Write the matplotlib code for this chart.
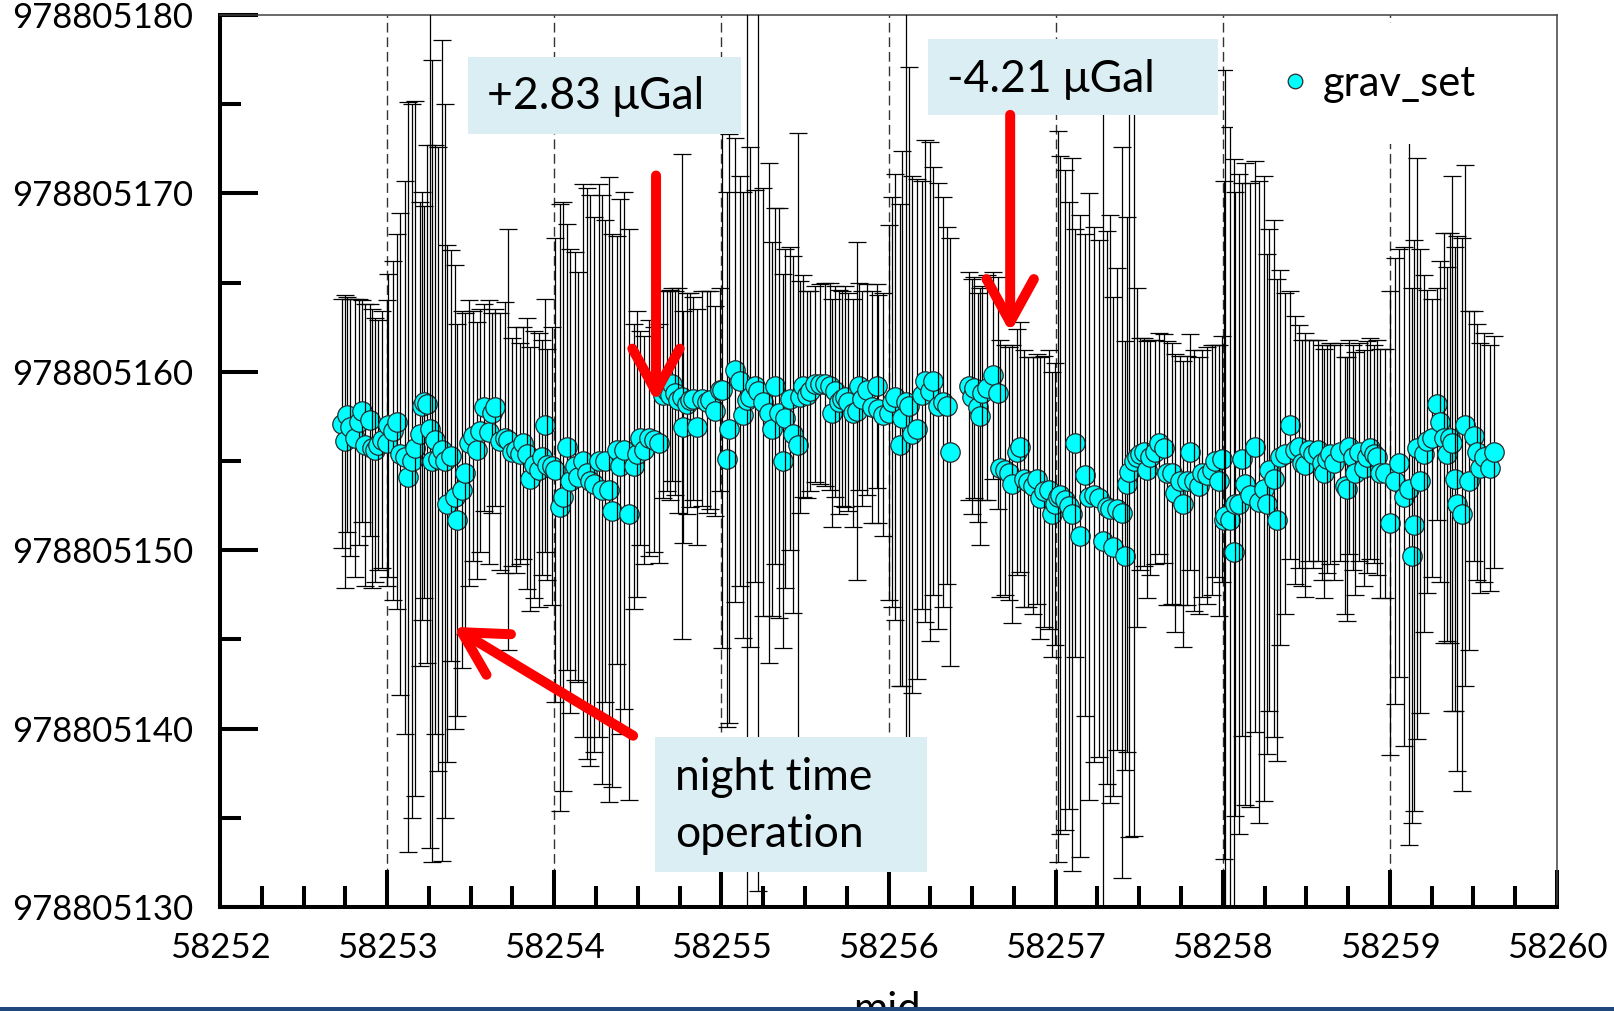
import matplotlib
matplotlib.use('Agg')
import matplotlib.pyplot as plt
from matplotlib.lines import Line2D
from matplotlib.patches import Rectangle
from matplotlib.ticker import MultipleLocator

plt.rcParams['font.family'] = ['Lato', 'DejaVu Sans']

MJD0 = 58252
G0 = 978805000

# each point: (mjd - 58252, gravity - 978805000, error)
seg1 = [(0.728, 157.1, 7.0), (0.748, 156.1, 8.2), (0.758, 157.6, 6.6), (0.778, 156.9, 7.2),
        (0.808, 156.3, 7.8), (0.834, 157.2, 6.9), (0.848, 157.8, 6.2), (0.868, 155.9, 7.9),
        (0.898, 157.3, 6.5), (0.908, 155.7, 7.8), (0.928, 155.6, 7.4), (0.948, 155.9, 7.0),
        (0.968, 156.2, 7.2), (0.998, 156.0, 8.0)]
seg2 = [(1.008, 157.0, 8.5), (1.038, 156.7, 9.5), (1.058, 157.2, 10.5), (1.077, 155.4, 13.5),
        (1.107, 155.2, 15.5), (1.127, 154.1, 21.0), (1.147, 155.0, 20.0), (1.167, 155.7, 19.5),
        (1.197, 156.5, 13.0), (1.207, 158.1, 12.0), (1.222, 158.3, 11.0), (1.237, 158.2, 14.5),
        (1.257, 156.8, 23.5), (1.267, 155.0, 22.5), (1.287, 156.2, 16.5), (1.307, 155.1, 17.5),
        (1.327, 155.6, 23.0), (1.347, 155.0, 20.0), (1.357, 152.6, 14.5), (1.382, 155.3, 11.5),
        (1.407, 153.0, 13.0), (1.417, 151.7, 11.0), (1.447, 153.4, 10.0), (1.467, 154.3, 9.0),
        (1.487, 156.0, 8.0)]
seg3 = [(1.512, 156.4, 7.0), (1.537, 155.6, 7.2), (1.557, 156.7, 6.8), (1.577, 158.0, 5.8),
        (1.607, 156.6, 7.4), (1.627, 157.7, 5.6), (1.647, 158.0, 5.5), (1.677, 156.1, 7.2),
        (1.707, 156.3, 7.6), (1.722, 156.2, 11.8), (1.747, 155.5, 6.4), (1.772, 155.6, 6.9),
        (1.797, 155.4, 6.2), (1.816, 156.0, 6.5), (1.836, 155.4, 7.6), (1.856, 154.0, 7.4),
        (1.876, 154.8, 7.5), (1.906, 154.5, 7.7), (1.926, 155.2, 6.6), (1.946, 157.0, 7.1),
        (1.956, 154.8, 6.5), (1.986, 154.7, 7.8)]
seg4 = [(2.006, 154.5, 13.0), (2.036, 152.4, 17.0), (2.055, 153.0, 16.5), (2.075, 155.8, 12.5),
        (2.095, 153.9, 13.0), (2.125, 154.7, 12.0), (2.145, 154.1, 11.5), (2.175, 155.0, 15.5),
        (2.195, 154.3, 16.0), (2.215, 153.9, 16.0), (2.235, 153.7, 15.0), (2.265, 155.0, 15.5),
        (2.285, 153.4, 16.5), (2.305, 155.0, 13.5), (2.325, 153.4, 17.5), (2.345, 152.2, 15.5),
        (2.375, 155.6, 12.0), (2.395, 154.7, 15.0), (2.415, 155.6, 14.5), (2.445, 152.0, 16.0),
        (2.475, 154.7, 8.0), (2.495, 155.4, 8.0)]
seg5 = [(2.515, 156.3, 6.0), (2.535, 155.6, 6.4), (2.565, 156.3, 6.6), (2.595, 156.2, 6.3),
        (2.625, 156.0, 6.7), (2.653, 158.7, 5.8), (2.673, 158.9, 5.6), (2.693, 158.7, 5.9),
        (2.703, 159.3, 5.4), (2.723, 158.8, 5.7), (2.743, 158.4, 6.3), (2.763, 158.6, 13.6),
        (2.773, 156.9, 6.5), (2.793, 158.2, 6.2), (2.813, 158.4, 6.0), (2.833, 158.5, 5.7),
        (2.853, 156.9, 6.6), (2.883, 158.5, 6.0), (2.913, 158.3, 6.2), (2.932, 158.4, 6.1),
        (2.962, 157.8, 5.9), (2.992, 159.0, 5.7)]
seg6 = [(3.002, 159.0, 14.5), (3.032, 155.1, 15.0), (3.047, 156.8, 16.5), (3.082, 160.1, 13.0),
        (3.112, 159.5, 11.5), (3.132, 157.6, 12.5), (3.156, 158.4, 29.0), (3.172, 158.6, 14.0),
        (3.202, 159.2, 11.0), (3.222, 158.9, 28.0), (3.252, 158.3, 12.0), (3.282, 157.7, 14.0),
        (3.302, 156.8, 10.5), (3.322, 159.2, 10.0), (3.342, 157.7, 11.5), (3.371, 155.0, 10.5),
        (3.381, 157.4, 9.5), (3.411, 158.5, 8.5), (3.431, 156.5, 10.0), (3.461, 155.9, 17.5),
        (3.471, 158.6, 6.5), (3.491, 159.2, 6.2)]
seg7 = [(3.511, 158.7, 5.8), (3.531, 158.9, 5.6), (3.561, 159.3, 5.5), (3.591, 159.3, 5.6),
        (3.621, 159.3, 5.7), (3.651, 159.2, 5.8), (3.661, 157.7, 6.4), (3.681, 158.9, 5.9),
        (3.701, 158.3, 6.3), (3.720, 158.5, 6.0), (3.740, 158.6, 6.2), (3.760, 158.3, 6.1),
        (3.790, 157.7, 6.4), (3.812, 157.8, 9.5), (3.822, 159.2, 5.8), (3.840, 158.5, 6.0),
        (3.870, 159.0, 5.9), (3.900, 158.0, 6.5), (3.930, 159.2, 5.7), (3.940, 157.9, 6.4),
        (3.970, 157.6, 6.8)]
seg8 = [(4.000, 157.7, 10.5), (4.020, 158.3, 11.5), (4.040, 158.6, 12.5), (4.070, 155.9, 13.5),
        (4.080, 157.4, 15.0), (4.105, 158.3, 26.0), (4.120, 158.1, 19.0), (4.139, 156.5, 14.5),
        (4.169, 156.8, 14.0), (4.199, 158.7, 12.0), (4.219, 159.5, 13.5), (4.249, 158.9, 14.0),
        (4.269, 159.5, 12.0), (4.299, 158.1, 12.5), (4.329, 158.3, 11.5), (4.349, 158.1, 10.0),
        (4.369, 155.5, 12.0)]
seg9 = [(4.479, 159.2, 6.4), (4.499, 158.6, 6.6), (4.509, 159.1, 6.2), (4.534, 158.0, 6.4),
        (4.548, 157.5, 7.2), (4.558, 158.8, 6.0), (4.588, 159.1, 6.3), (4.628, 159.8, 5.8),
        (4.658, 158.8, 6.5)]
seg10 = [(4.668, 154.6, 7.2), (4.698, 154.5, 7.0), (4.718, 154.3, 7.1), (4.738, 153.7, 7.8),
         (4.768, 155.5, 6.9), (4.788, 155.8, 7.0), (4.808, 154.0, 7.2), (4.833, 153.8, 7.0),
         (4.863, 153.6, 7.2), (4.888, 154.0, 7.0), (4.908, 152.9, 7.9), (4.928, 153.3, 7.6),
         (4.958, 153.4, 7.8), (4.977, 152.0, 8.0), (4.997, 152.6, 7.9)]
seg11 = [(5.012, 153.0, 20.5), (5.027, 153.1, 19.0), (5.057, 152.8, 18.5), (5.082, 152.5, 17.0),
         (5.097, 152.0, 20.0), (5.117, 156.0, 12.0), (5.147, 150.8, 18.0), (5.177, 154.2, 13.5),
         (5.197, 153.0, 17.0), (5.227, 153.1, 15.0), (5.257, 152.9, 14.5), (5.282, 150.5, 24.0),
         (5.307, 152.4, 15.5), (5.327, 152.3, 16.5), (5.346, 150.2, 14.0), (5.366, 152.3, 13.5),
         (5.396, 152.1, 20.5), (5.416, 149.7, 12.0), (5.426, 153.7, 15.0), (5.441, 154.4, 20.5),
         (5.471, 155.0, 21.0), (5.486, 155.2, 9.5)]
seg12 = [(5.506, 155.4, 6.5), (5.526, 155.5, 6.4), (5.546, 154.5, 7.2), (5.566, 155.2, 6.6),
         (5.596, 155.5, 6.3), (5.616, 156.0, 6.2), (5.646, 155.7, 6.4), (5.666, 154.3, 7.4),
         (5.696, 154.3, 7.3), (5.715, 153.2, 7.8), (5.745, 153.9, 7.0), (5.765, 152.6, 8.0),
         (5.785, 153.9, 7.0), (5.805, 155.5, 6.6), (5.825, 153.9, 7.3), (5.855, 153.6, 7.2),
         (5.875, 154.3, 6.9), (5.905, 154.2, 7.2), (5.935, 154.5, 7.0), (5.955, 155.0, 6.5),
         (5.975, 153.9, 7.6), (5.995, 155.1, 6.9)]
seg13 = [(6.005, 151.7, 19.0), (6.015, 151.9, 25.0), (6.045, 151.7, 22.0), (6.065, 149.9, 22.0),
         (6.075, 152.6, 17.5), (6.095, 152.6, 18.5), (6.115, 155.1, 15.5), (6.134, 153.7, 18.0),
         (6.164, 153.1, 17.5), (6.194, 155.8, 16.0), (6.214, 152.7, 18.0), (6.244, 153.45, 17.5),
         (6.264, 152.6, 14.0), (6.274, 154.5, 13.5), (6.304, 154.0, 14.5), (6.324, 151.7, 13.5),
         (6.344, 155.2, 10.5), (6.374, 155.4, 9.0), (6.404, 157.0, 7.5), (6.434, 155.6, 7.5),
         (6.454, 155.8, 6.8), (6.474, 154.9, 6.9), (6.494, 154.8, 7.4)]
seg14 = [(6.514, 155.6, 6.2), (6.538, 155.4, 6.4), (6.568, 155.6, 6.2), (6.593, 154.9, 6.6),
         (6.603, 154.3, 7.0), (6.623, 155.1, 6.4), (6.643, 155.4, 6.2), (6.663, 154.9, 6.6),
         (6.703, 155.5, 6.1), (6.733, 153.6, 7.2), (6.743, 153.45, 7.4), (6.753, 155.8, 6.0),
         (6.778, 155.2, 6.3), (6.793, 154.3, 6.8), (6.813, 155.5, 6.1), (6.843, 154.6, 6.6),
         (6.863, 155.2, 6.5), (6.883, 155.7, 6.2), (6.903, 155.4, 6.1), (6.922, 155.2, 6.6),
         (6.942, 154.3, 7.0), (6.972, 154.3, 7.0)]
seg15 = [(7.002, 151.5, 13.0), (7.032, 153.9, 12.5), (7.052, 154.9, 12.0), (7.082, 153.0, 14.0),
         (7.112, 153.45, 20.0), (7.132, 149.7, 15.0), (7.142, 151.4, 16.0), (7.162, 155.7, 16.3),
         (7.182, 153.9, 13.0), (7.202, 155.4, 10.0), (7.222, 156.1, 8.5), (7.252, 156.3, 7.8),
         (7.282, 158.2, 6.5), (7.302, 157.2, 9.0), (7.322, 156.3, 11.5), (7.341, 155.4, 10.5),
         (7.361, 156.3, 11.5), (7.371, 156.0, 15.0), (7.391, 154.0, 13.0), (7.401, 152.6, 15.0),
         (7.431, 152.0, 15.5), (7.451, 157.0, 14.6), (7.471, 153.9, 9.5), (7.501, 156.4, 7.0),
         (7.521, 155.5, 7.2), (7.541, 154.6, 7.0), (7.561, 155.2, 7.0), (7.601, 154.6, 6.9),
         (7.621, 155.5, 6.5)]

xticks = [58252, 58253, 58254, 58255, 58256, 58257, 58258, 58259, 58260]
yticks = [978805130, 978805140, 978805150, 978805160, 978805170, 978805180]
day_lines = [58253, 58254, 58255, 58256, 58257, 58258, 58259]

points = (seg1 + seg2 + seg3 + seg4 + seg5 + seg6 + seg7 + seg8 + seg9 + seg10
          + seg11 + seg12 + seg13 + seg14 + seg15)

fig = plt.figure(figsize=(16.14, 10.11), dpi=100)
ax = fig.add_axes([0.1363, 0.1029, 0.8284, 0.8823])

for d in day_lines:
    ax.axvline(d, color='#333333', lw=1.0, ls=(0, (7, 3.5)), zorder=1)

# one errorbar per point so each later bar sits over the earlier marker
for i, (t, g, e) in enumerate(points):
    ax.errorbar(MJD0 + t, G0 + g, yerr=e, fmt='o', ms=14, mfc='#00FFFF',
                mec='#2a2a2a', mew=0.9, ecolor='black', elinewidth=0.9,
                capsize=6.5, capthick=0.9, zorder=3 + 0.2 * i)

ax.set_xlim(58252, 58260)
ax.set_ylim(978805130, 978805180)
ax.set_xticks(xticks)
ax.set_xticklabels([str(v) for v in xticks])
ax.set_yticks(yticks)
ax.set_yticklabels([str(v) for v in yticks])
ax.xaxis.set_minor_locator(MultipleLocator(0.25))
ax.yaxis.set_minor_locator(MultipleLocator(5))
ax.tick_params(which='major', direction='in', length=27, width=2.9, labelsize=25)
ax.tick_params(which='minor', direction='in', length=15, width=2.9)
ax.tick_params(axis='x', which='both', pad=18, top=False)
ax.tick_params(axis='y', which='both', pad=19, right=False)
for s in ['left', 'bottom']:
    ax.spines[s].set_linewidth(2.9)
for s in ['top', 'right']:
    ax.spines[s].set_linewidth(1.1)
    ax.spines[s].set_color('#404040')

# text boxes
boxes = [((0.1855, 0.8666), 0.2042, 0.0863),
         ((0.5295, 0.8879), 0.2169, 0.0852),
         ((0.3254, 0.0392), 0.2034, 0.1514)]
for (x0, y0), w, h in boxes:
    ax.add_patch(Rectangle((x0, y0), w, h, transform=ax.transAxes, facecolor='#DAEEF3',
                           edgecolor='none', zorder=200, clip_on=False))

txt = dict(transform=ax.transAxes, fontsize=32, va='center', ha='left', zorder=201)
ax.text(0.1997, 0.9081, '+2.83 \u03bcGal', **txt)
ax.text(0.5438, 0.9271, '-4.21 \u03bcGal', **txt)
ax.text(0.3403, 0.1457, 'night time', **txt)
ax.text(0.3403, 0.0818, 'operation', **txt)

arrow = dict(arrowstyle='->,head_length=1.0,head_width=0.55', color='red', lw=7.2,
             mutation_scale=31, shrinkA=0, shrinkB=0, joinstyle='round', capstyle='round')
ax.annotate('', xy=(58254.609, 978805158.3), xytext=(58254.609, 978805171.0),
            arrowprops=arrow, zorder=202)
ax.annotate('', xy=(58256.728, 978805162.2), xytext=(58256.728, 978805174.4),
            arrowprops=arrow, zorder=202)
ax.annotate('', xy=(58253.394, 978805145.7), xytext=(58254.472, 978805139.6),
            arrowprops=arrow, zorder=202)

handle = Line2D([], [], marker='o', ls='none', ms=10.5, mfc='#00FFFF', mec='#2a2a2a',
                mew=0.9, label='grav_set')
leg = ax.legend(handles=[handle], loc='center left', bbox_to_anchor=(0.742, 0.923),
                fontsize=30, handlelength=1.0, handletextpad=0.15, borderpad=1.0,
                frameon=True, framealpha=1, fancybox=False)
leg.get_frame().set_edgecolor('none')
leg.get_frame().set_facecolor('white')
leg.set_zorder(300)

fig.text(0.5495, 0.0198, 'mjd', ha='center', va='top', fontsize=30)
fig.add_artist(Rectangle((0, 0), 1, 4.0 / 1011, transform=fig.transFigure,
                         facecolor='#1F497D', edgecolor='none', zorder=10))

fig.savefig('out.png', dpi=100)
